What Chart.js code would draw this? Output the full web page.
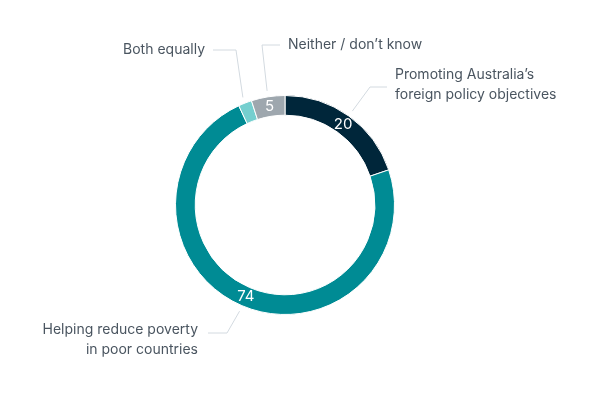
<!DOCTYPE html>
<html>
<head>
<meta charset="utf-8">
<script src="https://cdn.jsdelivr.net/npm/chart.js@4"></script>
<style>
  body { margin: 0; background: #fff; }
  #wrap { width: 600px; height: 400px; }
</style>
</head>
<body>
<div id="wrap"><canvas id="chart"></canvas></div>
<script>
const categories = ["Promoting Australia’s foreign policy objectives", "Helping reduce poverty in poor countries", "Both equally", "Neither / don’t know"]
const values = [20, 74, 2, 5]
const shownValues = ["20", "74", "", "5"]
const colors = ["#00263a", "#008b94", "#75cfcf", "#9ea7ae"]

// label text lines, position, alignment and leader elbow for each slice
const labelSpecs = [
  { lines: ["Promoting Australia’s", "foreign policy objectives"], x: 395, y: 75, align: "left", elbow: [370, 87], end: [387, 87] },
  { lines: ["Helping reduce poverty", "in poor countries"], x: 198, y: 330, align: "right", elbow: [227, 333], end: [208, 333] },
  { lines: ["Both equally"], x: 205, y: 50, align: "right", elbow: [236, 50], end: [213, 50] },
  { lines: ["Neither / don’t know"], x: 288, y: 45, align: "left", elbow: [262, 45], end: [280, 45] }
]

const labelPlugin = {
  id: "labels",
  afterDatasetsDraw(chart) {
    const ctx = chart.ctx
    const arcs = chart.getDatasetMeta(0).data
    ctx.save()
    arcs.forEach((arc, i) => {
      const { x, y, startAngle, endAngle, innerRadius, outerRadius } = arc.getProps(["x", "y", "startAngle", "endAngle", "innerRadius", "outerRadius"], true)
      const mid = (startAngle + endAngle) / 2
      // value inside the ring
      if (shownValues[i]) {
        const r = (innerRadius + outerRadius) / 2
        ctx.fillStyle = "#ffffff"
        ctx.font = "15px Inter, 'Noto Sans', sans-serif"
        ctx.textAlign = "center"
        ctx.textBaseline = "middle"
        ctx.fillText(shownValues[i], x + Math.cos(mid) * r, y + Math.sin(mid) * r)
      }
      // leader line
      const spec = labelSpecs[i]
      const sx = x + Math.cos(mid) * (outerRadius + 6)
      const sy = y + Math.sin(mid) * (outerRadius + 6)
      ctx.strokeStyle = "#d3dae0"
      ctx.lineWidth = 1
      ctx.beginPath()
      ctx.moveTo(sx, sy)
      ctx.lineTo(spec.elbow[0], spec.elbow[1])
      ctx.lineTo(spec.end[0], spec.end[1])
      ctx.stroke()
      // label text
      ctx.fillStyle = "#4a5560"
      ctx.font = "14px Inter, 'Noto Sans', sans-serif"
      ctx.textAlign = spec.align
      ctx.textBaseline = "middle"
      spec.lines.forEach((line, j) => ctx.fillText(line, spec.x, spec.y + j * 20))
    })
    ctx.restore()
  }
}

new Chart(document.getElementById("chart"), {
  type: "doughnut",
  data: {
    labels: categories,
    datasets: [{
      data: values,
      backgroundColor: colors,
      borderColor: "#ffffff",
      borderWidth: 1
    }]
  },
  options: {
    responsive: true,
    maintainAspectRatio: false,
    animation: false,
    cutout: "82%",
    layout: { padding: { top: 95, bottom: 85, left: 0, right: 30 } },
    plugins: {
      legend: { display: false },
      tooltip: { enabled: false }
    }
  },
  plugins: [labelPlugin]
})
</script>
</body>
</html>
